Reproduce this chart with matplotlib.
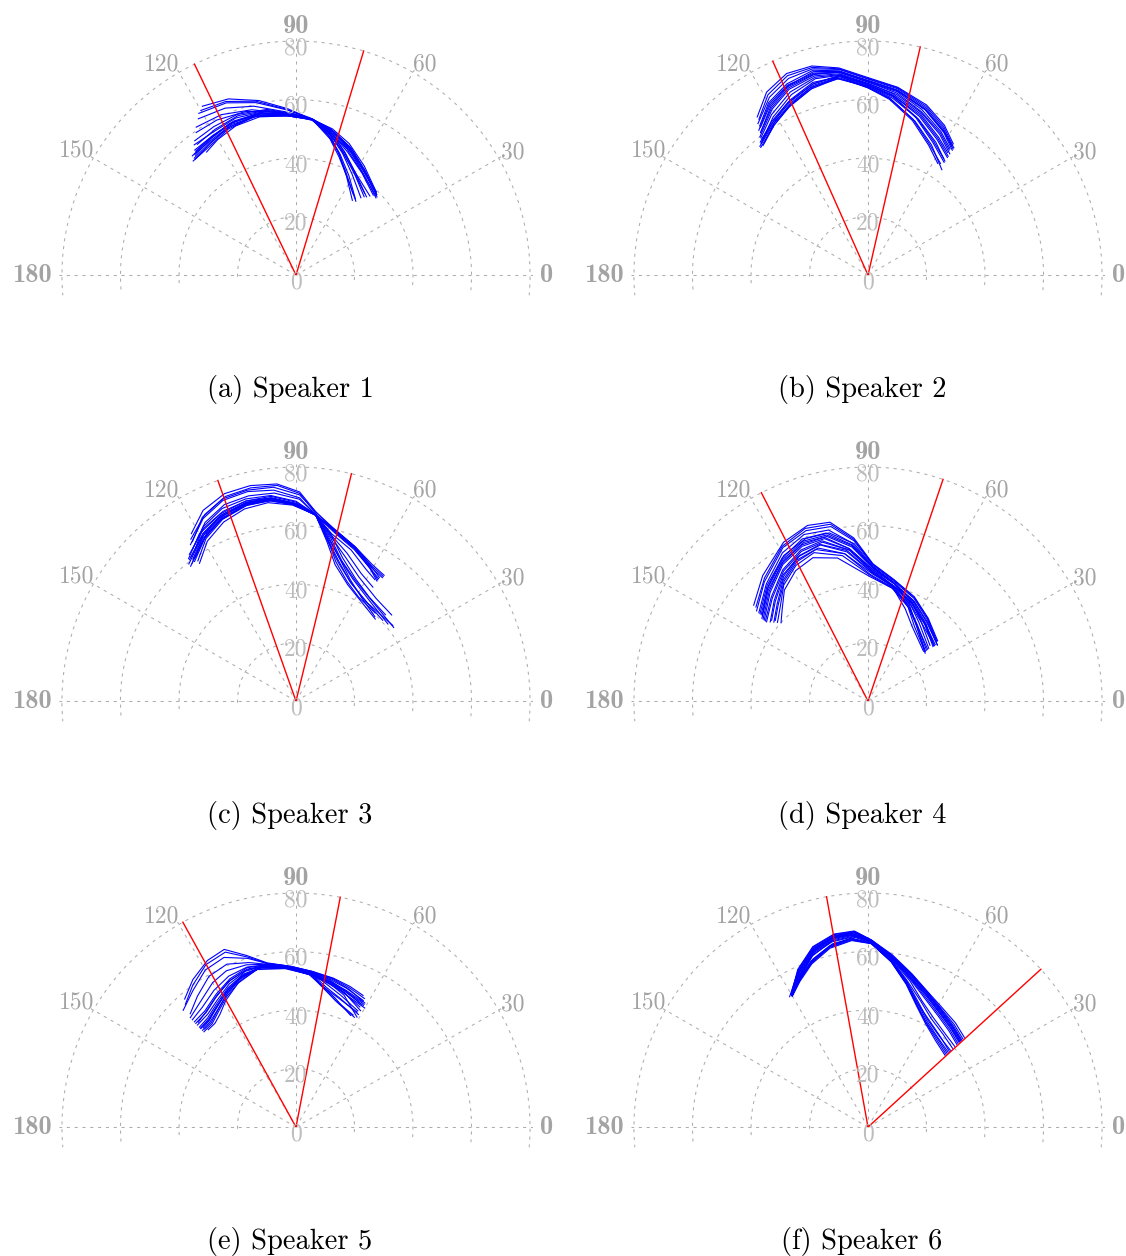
import numpy as np
import matplotlib.pyplot as plt

plt.rcParams["font.family"] = "cmr10"
plt.rcParams["axes.formatter.use_mathtext"] = True

# rejilla: angulos (grados) y radios
ang_ticks = [0, 30, 60, 90, 120, 150, 180]
r_ticks = [0, 20, 40, 60, 80]
# posicion (angulo, radio) de cada etiqueta de angulo
ang_label_pos = [(0, 83.5), (29.5, 85), (58.5, 84.5), (90, 84.8),
                 (122.5, 85.5), (150.5, 86.2), (180, 83.5)]
captions = ["(a) Speaker 1", "(b) Speaker 2", "(c) Speaker 3",
            "(d) Speaker 4", "(e) Speaker 5", "(f) Speaker 6"]

# limites del abanico (rayos rojos) para cada hablante, en grados
bounds = [(115.7, 73.2), (114.0, 77.1), (109.5, 76.3),
          (117.1, 71.3), (118.9, 79.1), (100.2, 42.4)]

# contornos de cada hablante: listas de (angulo, radio)
speaker1 = [
    [(119, 66), (111, 64.5), (102, 61), (93, 57), (84, 53.5), (76, 51.5), (68, 48.5), (58, 44), (46, 39.5)],
    [(121, 64.5), (112, 63.5), (103, 60.5), (93, 56.5), (84, 53.5), (76, 51), (67, 47.5), (57, 43), (45, 39)],
    [(122, 63), (113, 62), (104, 59.5), (94, 56), (84, 53.5), (75, 50.5), (66, 47), (56, 42.5), (44, 38.5)],
    [(124, 61), (115, 60.5), (105, 58.5), (94, 55.5), (84, 53.5), (76, 50), (69, 45.5), (60, 40.5), (47, 37)],
    [(130, 54), (122, 54.5), (113, 56), (103, 56), (93, 54.5), (84, 53.5), (76, 50), (68, 46.5), (58, 42), (45, 38.5)],
    [(131, 53), (123, 54), (114, 55.5), (104, 56), (93, 54.5), (84, 53.5), (75, 49.5), (67, 45.5), (57, 41.5), (46, 38)],
    [(129, 55), (121, 55.5), (112, 56.5), (102, 56.5), (92, 54.8), (84, 53.5), (76, 48.5), (70, 44), (62, 38.5), (52, 33)],
    [(132, 52.5), (124, 53), (115, 55), (105, 56), (94, 55), (84, 53.5), (76, 48), (70, 43), (62, 37.5), (51, 32.5)],
    [(128, 56.5), (120, 56.5), (111, 57.5), (101, 57), (92, 55), (84, 53.5), (75, 49.5), (68, 45), (59, 40), (48, 36)],
    [(127, 57.5), (119, 58), (110, 58.5), (100, 57.5), (91, 55.2), (84, 53.5), (76, 49), (70, 43.5), (63, 38), (53, 32)],
    [(131, 54), (123, 55), (114, 56.5), (104, 56.5), (93, 55), (84, 53.5), (75, 50.5), (66, 46.5), (56, 42), (45, 39)],
    [(126, 52), (120, 53.5), (112, 55), (103, 55.5), (93, 54.5), (84, 53.5), (77, 49), (71, 44.5), (64, 39), (55, 34)],
    [(120, 65), (112, 64), (103, 61), (94, 57), (85, 54), (77, 51.5), (69, 48), (60, 44), (48, 39.5)],
    [(125, 59.5), (117, 59.5), (107, 58.5), (96, 56), (85, 53.8), (77, 50), (70, 45.5), (62, 41), (50, 36.5)],
    [(130, 53.5), (122, 55), (113, 56.5), (103, 56.8), (93, 55), (84, 53.2), (76, 49.2), (69, 44.5), (61, 39.5), (50, 34.5)],
    [(131, 52.5), (124, 53.5), (115, 55.5), (105, 56.3), (94, 54.8), (84, 53.3), (75, 50.5), (67, 46.5), (57, 42.5), (46, 39.5)],
    [(129, 54.5), (121, 55.5), (112, 56.8), (102, 56.8), (92, 55), (84, 53.7), (76, 49.5), (69, 45), (60, 40), (49, 35.5)],
    [(127, 56), (119, 57), (110, 58), (100, 57.2), (91, 55), (83.5, 53.5), (75, 50), (66, 46), (56, 41.5), (44, 38)],
]
speaker2 = [
    [(125, 66), (119, 71.5), (112, 74.3), (105, 74), (98, 71.5), (90, 67.5), (81, 65), (71, 61.5), (63, 57.5), (57, 53.5)],
    [(126, 64), (119, 69.5), (112, 72.5), (105, 73), (98, 71), (90, 67), (81, 64.5), (71, 60.5), (63, 56.5), (57, 52.5)],
    [(127, 62), (120, 67.5), (113, 70.5), (105, 71.5), (98, 70), (90, 66), (81, 63.5), (72, 59.5), (63, 55), (57, 51.5)],
    [(128, 60), (120, 65.5), (113, 69), (105, 70.5), (98, 69.5), (90, 65.5), (81, 62.5), (72, 58.5), (63, 54), (56, 50)],
    [(129, 58), (121, 63), (113, 67), (105, 69.5), (98, 69), (90, 65), (82, 62), (72, 57), (63, 52), (56, 48.5)],
    [(128, 59), (121, 62), (114, 65.5), (106, 68.5), (98, 68.5), (90, 64.5), (82, 61), (72, 56), (63, 51), (56, 47)],
    [(130, 57.5), (122, 61), (114, 64.5), (106, 67.5), (98, 68.5), (90, 64), (83, 61), (73, 55), (64, 49.5), (55, 44)],
    [(129, 58.5), (122, 62), (115, 65), (106, 68), (98, 69), (90, 65.5), (82, 62.5), (72, 58), (63, 53), (57, 50)],
    [(127, 61), (120, 66), (113, 69.5), (105, 71), (98, 70), (90, 66.5), (81, 64), (71, 60), (62, 55.5), (56, 52)],
    [(128, 57.5), (121, 61.5), (114, 64), (106, 67), (98, 68), (90, 64), (83, 60.5), (74, 55), (65, 49), (58, 45)],
    [(126, 63), (120, 68), (113, 71), (105, 72.5), (98, 70.5), (90, 66.5), (81, 64), (71, 60), (63, 56), (56, 52.5)],
    [(129, 57), (122, 60.5), (115, 63.5), (107, 66.5), (99, 68), (90, 64.5), (82, 61.5), (73, 56.5), (64, 51), (57, 47.5)],
    [(125, 65), (119, 70.5), (112, 73.5), (105, 73.5), (98, 71.2), (90, 67.2), (81, 64.8), (71, 61), (63, 57), (57, 53)],
    [(127, 61), (120, 66.5), (113, 70), (105, 71.2), (98, 70), (90, 66), (81, 63), (72, 58.8), (63, 54.5), (57, 51)],
    [(128, 59.5), (121, 64), (113, 68), (105, 70), (98, 69.2), (90, 65.2), (82, 62), (72, 57.5), (63, 52.5), (56, 49)],
    [(129, 58), (122, 61.5), (114, 65), (106, 68), (98, 68.8), (90, 64.8), (82, 61.8), (73, 56.2), (64, 50.5), (56, 46.5)],
    [(130, 57), (122, 60.5), (115, 63.8), (107, 67), (99, 68.2), (90, 64.2), (83, 60.8), (74, 55.5), (65, 49.5), (57, 45.5)],
    [(126, 62.5), (120, 67), (113, 70.2), (105, 72), (98, 70.3), (90, 66.3), (81, 63.8), (71, 59.8), (62, 55.2), (56, 51.5)],
]
speaker3 = [
    [(122, 67.5), (116, 72.5), (109, 75), (102, 75.3), (95, 74.5), (89, 71.5), (84, 65), (77, 60), (69, 56.5), (61, 53.5), (55, 52.5)],
    [(123, 66), (116, 71), (109, 74), (102, 74.5), (95, 74), (89, 71), (84, 64.5), (79, 57), (73, 51), (66, 45.5), (58, 42), (47, 39.5)],
    [(124, 64.5), (117, 70), (110, 73), (103, 73.5), (96, 72.5), (89, 69.5), (84, 64), (77, 59), (69, 55.5), (61, 52), (56, 50.5)],
    [(126, 62), (118, 67), (111, 69.5), (104, 70.5), (97, 70), (90, 67.5), (84, 64), (79, 56), (73, 49.5), (65, 44.5), (54, 41.5), (38, 42)],
    [(127, 60.5), (119, 65.5), (112, 68.5), (104, 70), (97, 69.8), (90, 67.5), (84, 64), (77, 59.5), (69, 56), (61, 52), (56, 49.5)],
    [(125, 57.5), (119, 62.5), (112, 66), (105, 68), (98, 68.5), (91, 67), (84, 64), (78, 57), (72, 50.5), (64, 46), (53, 43), (37, 41.8)],
    [(128, 59.5), (120, 64.5), (113, 68), (105, 69.5), (98, 69.5), (91, 67.3), (84, 64), (77, 60), (69, 56.5), (61, 53), (55, 52)],
    [(126, 59), (119, 64), (112, 67.5), (104, 69.5), (97, 69.5), (90, 67), (84, 64), (79, 55.5), (74, 48.5), (66, 43.5), (56, 40.5), (46, 39)],
    [(127, 61), (120, 66), (112, 69), (104, 70.5), (97, 70.5), (90, 68), (84, 64), (78, 58.5), (70, 55), (62, 51), (57, 49.5)],
    [(125, 58.5), (119, 63.5), (112, 67), (104, 69), (97, 69), (90, 67), (84, 64), (79, 56.5), (73, 50), (66, 45), (57, 42), (43, 40.5)],
    [(123, 65), (117, 70.5), (110, 73.5), (103, 74), (96, 73.5), (89, 70.5), (84, 65), (77, 59.5), (69, 56), (61, 52.5), (55, 51.5)],
    [(126, 61), (119, 65.5), (112, 68.5), (104, 70), (97, 70), (90, 67.5), (84, 64), (78, 57.5), (71, 52), (63, 47.5), (52, 44.5), (42, 44)],
    [(124, 63), (117, 68.5), (110, 71.5), (103, 72), (96, 71.5), (89, 69), (84, 64.2), (78, 58), (71, 53.5), (63, 49), (56, 47)],
    [(126, 60), (119, 65), (112, 68), (104, 69.8), (97, 69.7), (90, 67.2), (84, 64), (79, 56.5), (74, 49.5), (67, 44.5), (59, 41.5), (48, 40.5)],
    [(127, 59), (120, 64), (112, 67.2), (104, 69.2), (97, 69.3), (90, 67), (84, 63.8), (77, 59.8), (69, 56.3), (61, 52.8), (56, 51)],
    [(125, 60), (118, 65), (111, 68.2), (104, 69.8), (97, 69.8), (90, 67.5), (84, 64.2), (78, 58), (72, 51.5), (64, 46.5), (55, 43.5), (44, 42.5)],
    [(128, 58.5), (120, 63.5), (113, 67), (105, 69), (98, 69.2), (91, 67.2), (84, 64), (79, 57.5), (73, 51), (65, 46), (55, 42.8), (40, 41)],
    [(124, 62), (118, 67.5), (111, 70.5), (104, 71.2), (97, 70.8), (90, 68.3), (84, 64.2), (77, 59.2), (69, 55.8), (61, 52.2), (56, 50)],
]
speaker4 = [
    [(140, 51), (130, 56), (118, 61.5), (109, 63.5), (102, 62.5), (95, 56), (88, 47), (78, 42.5), (66, 39), (54, 35), (41, 31.5)],
    [(141, 49), (131, 54), (119, 60), (110, 62), (102, 61), (95, 55), (88, 46.5), (78, 42), (66, 38.5), (54, 34.5), (41, 31)],
    [(141, 47.5), (131, 52.5), (120, 57.5), (111, 59.5), (103, 59), (95, 54), (88, 46), (78, 41.5), (66, 37.5), (53, 33), (40, 29.5)],
    [(142, 46), (132, 51), (121, 56), (112, 58.5), (104, 58), (96, 53), (88, 45.5), (77, 41), (67, 36), (58, 31), (41, 26)],
    [(142, 45), (132, 50), (122, 55), (113, 57.5), (105, 57.5), (97, 52.5), (88, 45), (78, 40.5), (67, 35.5), (57, 30.5), (40, 25.5)],
    [(142, 44.5), (133, 48.5), (123, 53.5), (114, 56.5), (106, 57), (97, 52), (88, 44.5), (78, 40.5), (66, 37), (54, 33), (40, 30)],
    [(141, 43), (133, 47), (124, 52), (115, 55), (107, 56), (98, 52), (88, 44), (78, 40), (68, 34), (59, 29.5), (42, 25.5)],
    [(140, 42), (133, 45.5), (125, 50.5), (117, 54), (108, 55), (99, 51), (88, 43.5), (77, 40), (66, 36.5), (53, 32.5), (40, 29)],
    [(139, 41), (133, 44), (126, 49), (118, 52.5), (110, 54), (100, 50.5), (89, 43), (78, 39.5), (67, 35), (56, 30.5), (41, 27)],
    [(138, 40), (133, 43), (127, 47.5), (119, 51), (111, 52.5), (102, 50), (89, 42.5), (78, 39.5), (66, 36), (54, 32), (40, 29.5)],
    [(141, 48), (131, 53), (120, 58.5), (111, 61), (103, 60), (96, 54.5), (88, 46), (78, 41.5), (67, 37.5), (57, 33), (42, 28.5)],
    [(142, 45.5), (132, 50.5), (122, 55.5), (113, 58), (105, 58), (97, 52.5), (88, 45), (77, 41), (65, 37.5), (53, 33.5), (39, 30.5)],
    [(140, 50), (130, 55), (119, 60.5), (110, 62.8), (102, 61.8), (95, 55.5), (88, 46.8), (78, 42.3), (66, 38.8), (54, 34.8), (41, 31.2)],
    [(141, 46.5), (132, 51.5), (121, 56.5), (112, 59), (104, 58.5), (96, 53.5), (88, 45.8), (77, 41.2), (67, 36.5), (57, 32), (41, 27.5)],
    [(142, 44), (133, 48), (123, 53), (114, 56), (106, 56.5), (97, 52), (88, 44.3), (78, 40.2), (67, 35), (58, 30), (41, 25.8)],
    [(140, 43), (133, 46.5), (124, 51.5), (116, 54.8), (107, 55.8), (98, 51.5), (88, 43.8), (77, 40.3), (66, 36.8), (54, 32.8), (40, 29.5)],
    [(139, 42), (133, 45), (125, 50), (117, 53.5), (109, 54.8), (99, 51), (89, 43.3), (78, 39.8), (67, 35.5), (57, 31), (41, 26.5)],
    [(141, 47), (131, 52), (121, 57), (112, 59.8), (104, 59.2), (96, 53.8), (88, 45.8), (78, 41.3), (66, 37.8), (53, 33.8), (39, 30.5)],
]
speaker5 = [
    [(131, 58), (125, 61.5), (118, 64.5), (112, 65.5), (106, 61), (100, 57), (92, 55), (84, 53.5), (76, 52.5), (69, 51.5), (63, 50.5)],
    [(134, 55.5), (127, 58.5), (120, 62), (113, 63), (106, 60), (100, 56.8), (92, 55), (84, 53.3), (76, 52), (69, 50.5), (61, 48.5)],
    [(133, 53), (127, 56), (120, 59.5), (113, 60.5), (106, 58.5), (100, 56.5), (92, 54.8), (84, 53), (77, 50.5), (70, 48), (61, 43)],
    [(134, 50), (128, 50.5), (121, 53), (114, 55.5), (107, 57), (100, 56.3), (92, 54.6), (84, 53), (77, 51.5), (70, 49.5), (62, 47.5)],
    [(134, 48.5), (128, 49), (122, 51), (115, 54), (108, 56), (101, 56.2), (92, 54.5), (84, 52.5), (78, 48), (72, 45), (62, 42.5)],
    [(134, 47), (129, 47.5), (123, 49.5), (116, 52.5), (109, 55), (102, 56), (93, 54.5), (85, 52.5), (77, 51), (70, 49.5), (61, 48)],
    [(134, 46), (129, 46.5), (123, 48.5), (117, 51.5), (110, 54.5), (102, 56), (93, 54.4), (85, 52.5), (79, 48.5), (73, 45.5), (63, 43)],
    [(134, 45.3), (129, 45.5), (124, 47.5), (118, 50.5), (111, 53.5), (103, 55.8), (93, 54.3), (85, 52.3), (77, 50.5), (70, 48.5), (60, 47)],
    [(133, 49), (128, 50), (121, 52.5), (114, 55), (107, 56.5), (100, 56.2), (92, 54.5), (84, 52.8), (78, 50), (71, 47.5), (62, 45)],
    [(133, 46.5), (129, 47), (124, 49), (117, 52), (110, 54.5), (102, 55.9), (93, 54.3), (85, 52.5), (78, 50.5), (71, 49), (62, 46.5)],
    [(134, 51), (128, 52), (121, 54.5), (114, 56.5), (107, 57.2), (100, 56.4), (92, 54.6), (84, 53.2), (77, 51.8), (70, 50.5), (62, 49)],
    [(132, 44.8), (128, 45), (124, 46.5), (119, 49.5), (112, 53), (104, 55.5), (94, 54.3), (85, 52.4), (79, 49), (73, 46), (64, 42.5)],
    [(132, 56.5), (126, 60), (119, 63.5), (112, 64.5), (106, 60.5), (100, 56.8), (92, 55), (84, 53.5), (76, 52.3), (69, 51), (62, 49.8)],
    [(134, 52), (127, 54), (120, 57), (114, 58.5), (107, 58), (100, 56.5), (92, 54.7), (84, 53), (77, 51), (70, 48.8), (61, 45.5)],
    [(134, 49.3), (128, 49.8), (122, 52), (115, 54.8), (108, 56.3), (101, 56.2), (92, 54.5), (84, 52.6), (78, 49), (71, 46.5), (61, 44)],
    [(134, 47.5), (129, 48), (123, 50), (116, 53), (109, 55.3), (101, 56.1), (93, 54.5), (85, 52.7), (77, 51.2), (70, 49.8), (62, 48.5)],
    [(133, 45.8), (129, 46), (124, 48), (118, 51), (111, 54), (103, 55.8), (93, 54.3), (85, 52.3), (79, 48.8), (72, 46.5), (62, 44.5)],
    [(134, 46.8), (129, 47.2), (123, 49.2), (117, 52.2), (110, 54.8), (102, 56), (93, 54.4), (85, 52.6), (78, 50.8), (71, 49.5), (61, 47.5)],
]
speaker6 = [
    [(120, 52.5), (114, 59), (107, 64.5), (100, 67), (94, 67.2), (89, 64), (82, 59.5), (74, 54.5), (66, 50.5), (58, 48), (50, 46.5), (43, 45)],
    [(120, 52.3), (114, 58.5), (107, 64), (100, 66.5), (94, 66.8), (89, 63.8), (82, 59), (74, 54), (66, 50), (58, 47), (50, 45), (43, 43.5)],
    [(120, 52.2), (114, 57.5), (107, 63), (100, 65.8), (94, 66.2), (89, 63.5), (82, 58.5), (74, 53), (66, 49), (58, 46), (50, 44), (43, 42.5)],
    [(120, 52), (114, 56.5), (108, 61.5), (101, 64.8), (94, 65.5), (89, 63.3), (82, 58), (74, 52), (67, 47), (59, 43.5), (51, 41.5), (43, 40.5)],
    [(120, 52), (114, 56), (108, 60.5), (101, 63.8), (94, 65), (89, 63), (82, 57.5), (75, 51.5), (68, 46), (61, 42), (52, 39.5), (43, 38.5)],
    [(120, 51.8), (115, 55.5), (109, 59.5), (102, 63), (95, 64.5), (89, 62.8), (82, 57), (75, 50.5), (68, 44.5), (61, 40.5), (52, 37.5), (43, 36)],
    [(120, 51.7), (115, 55), (109, 59), (102, 62.5), (95, 64), (89, 62.7), (82, 57.2), (75, 51), (68, 45.5), (60, 42), (51, 39.5), (43, 38)],
    [(120, 52.1), (114, 57), (107, 62.5), (100, 65.2), (94, 65.8), (89, 63.4), (82, 58.2), (74, 52.5), (66, 48), (58, 45), (50, 43), (43, 41.5)],
    [(121, 52), (115, 57.5), (108, 63), (101, 65.8), (95, 66), (89, 63.6), (82, 58.8), (74, 53.5), (66, 49.5), (58, 46.5), (50, 44.5), (43, 43)],
    [(120, 51.9), (115, 55.8), (109, 60), (102, 63.3), (95, 64.7), (89, 62.9), (82, 57.3), (75, 50.8), (68, 45), (61, 41), (52, 38.5), (43, 37)],
    [(120, 52.4), (114, 58.8), (107, 64.3), (100, 66.8), (94, 67), (89, 64), (82, 59.2), (74, 54.3), (66, 50.3), (58, 47.5), (50, 45.8), (43, 44.3)],
    [(119, 52.6), (114, 57.8), (107, 63.3), (100, 66), (94, 66.5), (89, 63.7), (82, 58.7), (74, 53.2), (66, 49.3), (58, 46.2), (50, 44.2), (43, 42.8)],
    [(120, 52.3), (114, 58.2), (107, 63.8), (100, 66.3), (94, 66.6), (89, 63.8), (82, 58.9), (74, 53.8), (66, 49.8), (58, 46.8), (50, 44.8), (43, 43.3)],
    [(120, 52.1), (114, 57.2), (107, 62.8), (100, 65.5), (94, 66), (89, 63.5), (82, 58.4), (74, 52.8), (66, 48.5), (58, 45.5), (50, 43.5), (43, 42)],
    [(120, 52), (114, 56.8), (108, 61.8), (101, 64.5), (94, 65.3), (89, 63.2), (82, 57.8), (75, 51.8), (67, 46.5), (60, 43), (51, 40.8), (43, 39.5)],
    [(120, 51.9), (115, 56), (108, 60.2), (101, 63.5), (95, 64.8), (89, 62.9), (82, 57.4), (75, 51.2), (68, 45.5), (61, 41.5), (52, 38.8), (43, 37.5)],
    [(120, 51.8), (115, 55.3), (109, 59.3), (102, 62.8), (95, 64.2), (89, 62.8), (82, 57.1), (75, 50.7), (68, 44.8), (61, 40.8), (52, 38), (43, 36.5)],
    [(120, 52.2), (114, 58), (107, 63.5), (100, 66.2), (94, 66.7), (89, 63.9), (82, 59.1), (74, 54.1), (66, 50.1), (58, 47.3), (50, 45.3), (43, 43.8)],
]
speakers = [speaker1, speaker2, speaker3, speaker4, speaker5, speaker6]

W, H = 1126, 1256
fig = plt.figure(figsize=(W / 100, H / 100), dpi=100)

# centros de cada semicirculo (pixeles), escala en px por unidad de radio
centers = [(296, 276), (868, 276), (296, 702), (868, 702), (296, 1128), (868, 1128)]
cap_x = [290, 862, 290, 862, 290, 862]
cap_y = [389, 389, 815, 815, 1241, 1241]
rmax = 81
R = 2.95 * rmax
extra = 5  # grados bajo el eje horizontal
s = np.sin(np.deg2rad(extra))

grid_col = "#adadad"
ang_col = "#a3a3a3"
rad_col = "#bcbcbc"

for i in range(6):
    cx, cy = centers[i]
    left = cx - R
    bottom = (H - cy) - R * (1 + s) / 2
    ax = fig.add_axes([left / W, bottom / H, 2 * R / W, 2 * R / H], projection="polar")
    ax.set_thetamin(-extra)
    ax.set_thetamax(180 + extra)
    ax.set_ylim(0, rmax)
    ax.set_xticks(np.deg2rad(ang_ticks))
    ax.set_yticks(r_ticks[1:])
    ax.set_xticklabels([])
    ax.set_yticklabels([])
    ax.tick_params(length=0)
    ax.grid(True, color=grid_col, linestyle=(0, (3, 4.5)), linewidth=0.75)
    for sp in ax.spines.values():
        sp.set_color("none")
    ax.patch.set_alpha(0)

    # etiquetas de angulo
    for a, (pa, pr) in zip(ang_ticks, ang_label_pos):
        if a in (0, 90, 180):
            fam, fs = "cmb10", 19
        else:
            fam, fs = "cmr10", 17
        ha = "center"
        if a == 0:
            ha = "left"
        if a == 180:
            ha = "right"
        ax.text(np.deg2rad(pa), pr, str(a), ha=ha, va="center", fontsize=fs, color=ang_col, family=fam)

    # etiquetas de radio sobre el eje de 90
    for r in r_ticks:
        ax.annotate(str(r), xy=(np.pi / 2, r), xytext=(0, -5), textcoords="offset points",
                    ha="center", va="center", fontsize=17, color=rad_col)

    # contornos
    for curve in speakers[i]:
        th = [np.deg2rad(p[0]) for p in curve]
        rr = [p[1] for p in curve]
        ax.plot(th, rr, color="blue", linewidth=0.8)

    # rayos del abanico
    for b in bounds[i]:
        ax.plot([np.deg2rad(b), np.deg2rad(b)], [0, 80], color="red", linewidth=1.0)

    fig.text(cap_x[i] / W, 1 - cap_y[i] / H, captions[i], ha="center", va="center", fontsize=20.5)

fig.savefig("out.png", dpi=100)
